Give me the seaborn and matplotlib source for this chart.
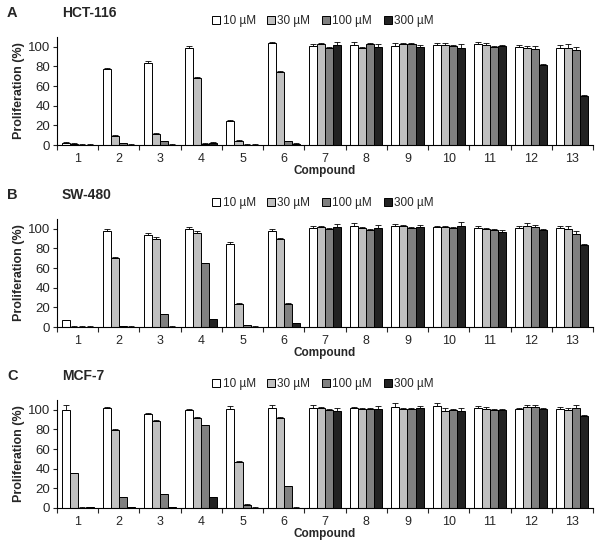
import numpy as np
import pandas as pd
import seaborn as sns
import matplotlib
matplotlib.use("Agg")
import matplotlib.pyplot as plt
from matplotlib.ticker import FixedLocator
from matplotlib.patches import Patch

compounds = [str(i) for i in range(1, 14)]
concs = ["10 µM", "30 µM", "100 µM", "300 µM"]
colors = ["#ffffff", "#c0c0c0", "#808080", "#222222"]

# Panel A: HCT-116
hct_10 = [2, 77, 84, 99, 24, 104, 101, 102, 101, 102, 103, 100, 99]
hct_30 = [1.5, 9, 11, 68, 4.5, 74, 103, 99, 103, 102, 102, 99, 99]
hct_100 = [0.5, 2, 4, 1.5, 0.5, 4, 99, 103, 103, 101, 100, 98, 97]
hct_300 = [0.5, 0.5, 0.5, 2.5, 0.5, 1.5, 102, 100, 100, 99, 101, 81, 50]
hct_err_10 = [1, 1.5, 1.5, 1.5, 1, 1, 2, 3, 3, 2, 2, 2, 3]
hct_err_30 = [0.5, 1.5, 1, 1, 1, 1, 1, 1, 1, 2, 2, 2, 4]
hct_err_100 = [0.3, 0.5, 0.5, 0.5, 0.3, 0.5, 1, 1, 1, 1, 1, 3, 3]
hct_err_300 = [0.3, 0.3, 0.3, 0.5, 0.3, 0.3, 3, 3, 2, 4, 1, 2, 1]

# Panel B: SW-480
sw_10 = [7, 98, 94, 100, 85, 98, 101, 103, 103, 102, 101, 101, 101]
sw_30 = [0.5, 70, 90, 96, 23.5, 90, 102, 101, 103, 102, 100, 103, 100]
sw_100 = [0.5, 1, 13, 65, 2, 23.5, 100, 99, 101, 101, 99, 102, 95]
sw_300 = [0.5, 0.5, 0.5, 8, 0.5, 4, 102, 101, 102, 103, 97, 99, 84]
sw_err_10 = [0.5, 2, 1.5, 1.5, 1.5, 1.5, 2, 3, 2, 1, 2, 2, 2]
sw_err_30 = [0.3, 1, 1.5, 1.5, 0.5, 1, 1, 1, 1, 1, 1, 3, 3]
sw_err_100 = [0.3, 0.3, 0.5, 0.5, 0.3, 0.5, 1, 1, 1, 1, 1, 2, 3]
sw_err_300 = [0.2, 0.2, 0.2, 0.5, 0.2, 0.5, 3, 3, 2, 4, 2, 1, 1]

# Panel C: MCF-7
mcf_10 = [100, 102, 95.5, 99.5, 100.5, 102, 102, 101.5, 103, 103.5, 102, 100.5, 101]
mcf_30 = [35.5, 79, 89, 91.5, 47, 92, 101.5, 101, 100.5, 99, 100.5, 103, 99.5]
mcf_100 = [0.5, 11, 14, 84.5, 3.5, 22, 100, 101, 101, 100, 99.5, 102.5, 101.5]
mcf_300 = [1, 1, 1, 11, 0.5, 0.5, 98.5, 101, 102, 98.5, 100, 101, 94]
mcf_err_10 = [5, 1, 1.5, 1.5, 3, 3, 3, 1, 4, 3, 2, 1, 2]
mcf_err_30 = [0.5, 1, 1, 1.5, 0.5, 1, 1, 1, 1, 3, 2, 2, 2]
mcf_err_100 = [0.3, 0.5, 0.5, 0.5, 0.3, 0.5, 1, 1, 1, 1, 1, 2, 3]
mcf_err_300 = [0.3, 0.3, 0.3, 0.5, 0.3, 0.3, 3, 3, 2, 3, 1, 1, 1]

panels = [
    ("A", "HCT-116", [hct_10, hct_30, hct_100, hct_300],
     [hct_err_10, hct_err_30, hct_err_100, hct_err_300]),
    ("B", "SW-480", [sw_10, sw_30, sw_100, sw_300],
     [sw_err_10, sw_err_30, sw_err_100, sw_err_300]),
    ("C", "MCF-7", [mcf_10, mcf_30, mcf_100, mcf_300],
     [mcf_err_10, mcf_err_30, mcf_err_100, mcf_err_300]),
]

sns.set_style("white")
plt.rcParams['font.family'] = ['Liberation Sans', 'DejaVu Sans']

W, H = 600, 549
fig = plt.figure(figsize=(6, 5.49), dpi=100)

# zero-line pixel y for each panel
zeros = [145, 327, 508]
ax_h = 108
ax_left, ax_right = 57, 593

for (letter, cell, vals, errs), y0 in zip(panels, zeros):
    rect = [ax_left / W, 1 - y0 / H, (ax_right - ax_left) / W, ax_h / H]
    ax = fig.add_axes(rect)
    rows = []
    for c, v in zip(concs, vals):
        for comp, val in zip(compounds, v):
            rows.append({"Compound": comp, "Conc": c, "Value": val})
    df = pd.DataFrame(rows)
    sns.barplot(data=df, x="Compound", y="Value", hue="Conc",
                order=compounds, hue_order=concs, palette=colors,
                edgecolor="black", linewidth=0.7, width=0.78,
                saturation=1, errorbar=None, legend=False, ax=ax)
    bar_conts = list(ax.containers)
    for cont, e in zip(bar_conts, errs):
        xs = [p.get_x() + p.get_width() / 2 for p in cont]
        ys = [p.get_height() for p in cont]
        ax.errorbar(xs, ys, yerr=[np.zeros(len(e)), e], fmt="none",
                    ecolor="black", elinewidth=0.6, capsize=2.2, capthick=0.6)
    ax.set_ylim(0, 110)
    ax.set_xlim(-0.5, 12.5)
    ax.set_yticks([0, 20, 40, 60, 80, 100])
    ax.tick_params(axis="y", labelsize=9.5, length=3, width=0.8, pad=2, left=True, direction="out")
    ax.tick_params(axis="x", which="major", labelsize=9, length=0, pad=6)
    ax.xaxis.set_minor_locator(FixedLocator(np.arange(-0.5, 13, 1)))
    ax.tick_params(axis="x", which="minor", length=3.5, width=0.8, bottom=True, direction="out")
    for s in ["top", "right"]:
        ax.spines[s].set_visible(False)
    for s in ["left", "bottom"]:
        ax.spines[s].set_linewidth(0.8)
        ax.spines[s].set_color("black")
    ax.set_xlabel("Compound", fontsize=8.5, fontweight="bold", labelpad=0)
    ax.set_ylabel("Proliferation (%)", fontsize=9, fontweight="bold", labelpad=2)
    fig.text(7 / W, 1 - (y0 - 132) / H, letter, fontsize=10.5, fontweight="bold",
             ha="left", va="center")
    fig.text(62 / W, 1 - (y0 - 132) / H, cell, fontsize=10, fontweight="bold",
             ha="left", va="center")
    hs = [Patch(facecolor=col, edgecolor="black", linewidth=0.7) for col in colors]
    fig.legend(hs, concs, loc="center", bbox_to_anchor=(323 / W, 1 - (y0 - 124) / H),
               ncol=4, frameon=False, fontsize=8.5, handlelength=0.65, handleheight=0.65,
               handletextpad=0.2, columnspacing=1.0, borderpad=0)

fig.savefig("out.png", dpi=100)
